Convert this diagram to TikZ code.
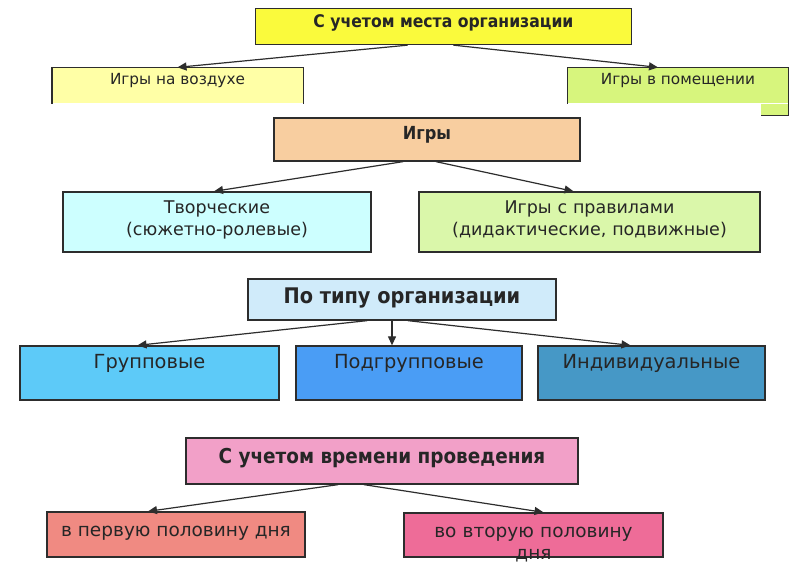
\documentclass[tikz,border=0pt]{standalone}
\usepackage{fontspec}
\setmainfont{DejaVu Sans}
\newfontfamily\condfont{DejaVu Sans Condensed}
\usetikzlibrary{arrows.meta}
\definecolor{boxline}{RGB}{45,45,45}
\definecolor{placecol}{RGB}{250,250,60}
\definecolor{outdoorcol}{RGB}{255,255,166}
\definecolor{indoorcol}{RGB}{215,245,125}
\definecolor{gamescol}{RGB}{248,206,160}
\definecolor{creativecol}{RGB}{205,255,255}
\definecolor{rulescol}{RGB}{218,247,170}
\definecolor{orgtypecol}{RGB}{208,235,250}
\definecolor{groupcol}{RGB}{93,202,248}
\definecolor{subgroupcol}{RGB}{74,157,245}
\definecolor{individualcol}{RGB}{70,152,198}
\definecolor{timecol}{RGB}{242,160,200}
\definecolor{firstcol}{RGB}{240,138,130}
\definecolor{secondcol}{RGB}{238,108,152}

\begin{document}
\begin{tikzpicture}[x=1pt,y=-1pt,
    box/.style={draw=boxline,line width=1.3pt,inner xsep=4pt,inner ysep=0pt,text=black!85,text height=13pt},
    txt/.style={font=\fontsize{#1}{22}\selectfont},
    head/.style={font=\condfont\bfseries\fontsize{#1}{22}\selectfont},
    link/.style={draw=boxline,line width=1.2pt,-{Triangle[length=9pt,width=8pt]}}]
  \fill[white] (0,0) rectangle (800,568);
  \useasboundingbox (0,0) rectangle (800,568);

  % place of organisation
  \node[box,fill=placecol,head=17.4,minimum width=376pt,minimum height=36pt,text height=12pt,text depth=11pt] (place) at (443.5,26.5) {С учетом места организации};
  \node[box,draw=none,fill=outdoorcol,txt=15.3,minimum width=250pt,minimum height=35pt,text height=11pt,text depth=14pt] (outdoor) at (177.5,85.5) {Игры на воздухе};
  \node[box,draw=none,fill=indoorcol,txt=15.3,minimum width=220pt,minimum height=35pt,text height=11pt,text depth=14pt] (indoor) at (678,85.5) {Игры в помещении};
  \draw[boxline,line width=1.3pt] (outdoor.south west) |- (outdoor.north east) -- (outdoor.south east);
  \draw[boxline,line width=1.3pt] (indoor.south west) |- (indoor.north east) -- (indoor.south east);
  \fill[indoorcol] ([xshift=-28pt]indoor.south east) rectangle ([yshift=-12pt]indoor.south east);
  \draw[boxline,line width=1.3pt] (indoor.south east) -- ([yshift=-12pt]indoor.south east) -- ([xshift=-28pt,yshift=-12pt]indoor.south east);
  \draw[link] ([xshift=-36pt]place.south) -- (outdoor.north);
  \draw[link] ([xshift=10pt]place.south) -- ([xshift=-20pt]indoor.north);

  % games
  \node[box,fill=gamescol,head=18,minimum width=306pt,minimum height=43pt,text depth=14pt] (games) at (427,139.5) {Игры};
  \node[box,fill=creativecol,txt=17.5,align=center,text width=300pt,minimum height=60pt,text depth=31pt] (creative) at (217,222) {Творческие\\(сюжетно-ролевые)};
  \node[box,fill=rulescol,txt=17.5,align=center,text width=333pt,minimum height=60pt,text depth=31pt] (rules) at (589.5,222) {Игры с правилами\\(дидактические, подвижные)};
  \draw[link] ([xshift=-24pt]games.south) -- ([xshift=-3pt]creative.north);
  \draw[link] ([xshift=9pt]games.south) -- ([xshift=-16pt]rules.north);

  % type of organisation
  \node[box,fill=orgtypecol,head=21.5,minimum width=308pt,minimum height=41pt,text height=14pt,text depth=7pt] (orgtype) at (402,299.5) {По типу организации};
  \node[box,fill=groupcol,txt=19.4,minimum width=259pt,minimum height=54pt,text depth=23pt] (group) at (149.5,373) {Групповые};
  \node[box,fill=subgroupcol,txt=19.4,minimum width=226pt,minimum height=54pt,text depth=23pt] (subgroup) at (409,373) {Подгрупповые};
  \node[box,fill=individualcol,txt=19.4,minimum width=227pt,minimum height=54pt,text depth=23pt] (individual) at (651.5,373) {Индивидуальные};
  \draw[link] ([xshift=-35pt]orgtype.south) -- ([xshift=-12pt]group.north);
  \draw[link] ([xshift=-10pt]orgtype.south) -- ([xshift=-17pt]subgroup.north);
  \draw[link] ([xshift=6pt]orgtype.south) -- ([xshift=-21pt]individual.north);

  % time of day
  \node[box,fill=timecol,head=20.5,minimum width=392pt,minimum height=46pt,text height=14pt,text depth=10pt] (time) at (382,461) {С учетом времени проведения};
  \node[box,fill=firstcol,txt=18.5,minimum width=258pt,minimum height=45pt,text depth=10pt] (first) at (176,534.5) {в первую половину дня};
  \node[box,fill=secondcol,txt=18.5,align=center,text width=251pt,minimum height=44pt,text depth=9pt] (second) at (533.5,535) {во вторую половину\\дня};
  \draw[link] ([xshift=-44pt]time.south) -- ([xshift=-28pt]first.north);
  \draw[link] ([xshift=-18pt]time.south) -- ([xshift=10pt]second.north);
\end{tikzpicture}
\end{document}
